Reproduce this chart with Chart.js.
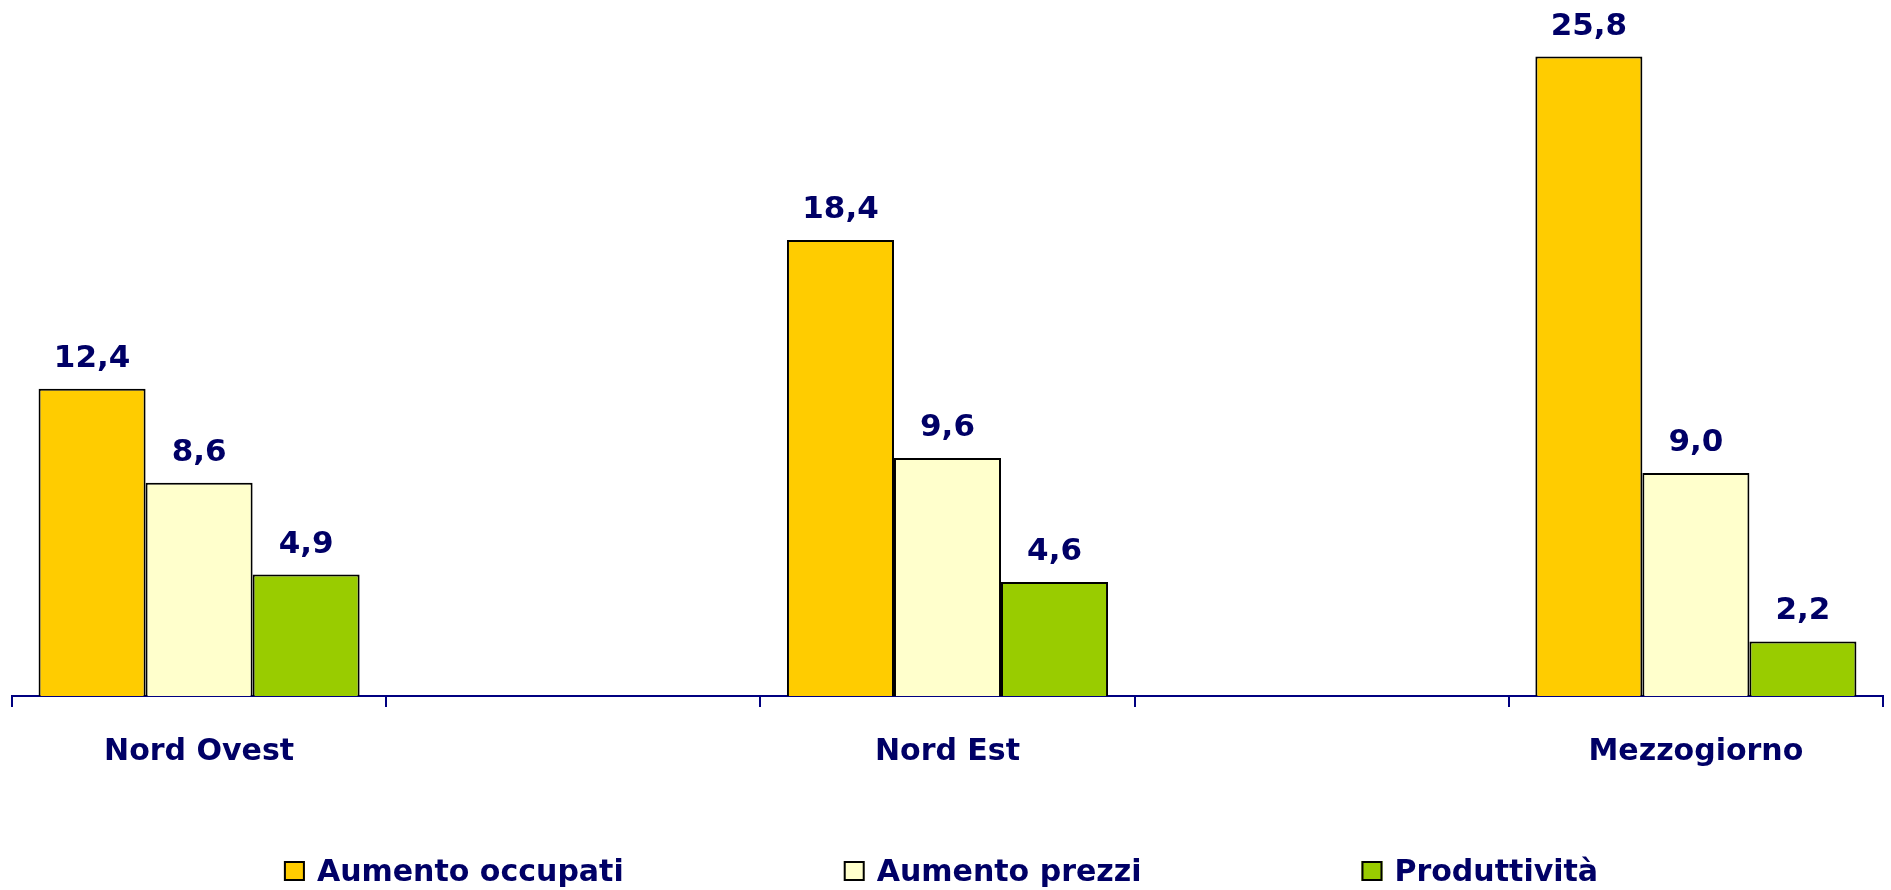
<!DOCTYPE html>
<html>
<head>
<meta charset="utf-8">
<script src="https://cdn.jsdelivr.net/npm/chart.js@4/dist/chart.umd.min.js"></script>
<style>
    html, body { margin: 0; padding: 0; background: #fff; }
    #wrap { width: 1891px; height: 890px; }
</style>
</head>
<body>
<div id="wrap"><canvas id="regionChart"></canvas></div>
<script>
// Chart data (empty categories keep the spacing of the original)
const categories = ["Nord Ovest", "", "Nord Est", "", "Mezzogiorno"];
const seriesNames = ["Aumento occupati", "Aumento prezzi", "Produttività"];
const occupati = [12.4, null, 18.4, null, 25.8];
const prezzi = [8.6, null, 9.6, null, 9.0];
const produttivita = [4.9, null, 4.6, null, 2.2];

const navy = "#000066";
const colors = ["#FFCC00", "#FFFFCC", "#99CC00"];
const font = "DejaVu Sans";

// value labels above bars
const valueLabels = {
    id: "valueLabels",
    afterDatasetsDraw(chart) {
        const ctx = chart.ctx;
        ctx.save();
        ctx.font = "bold 31px '" + font + "'";
        ctx.fillStyle = navy;
        ctx.textAlign = "center";
        ctx.textBaseline = "alphabetic";
        chart.data.datasets.forEach((ds, i) => {
            chart.getDatasetMeta(i).data.forEach((bar, j) => {
                const v = ds.data[j];
                if (v === null) return;
                ctx.fillText(v.toFixed(1).replace(".", ","), bar.x, bar.y - 22);
            });
        });
        ctx.restore();
    }
};

// legend drawn at the bottom with wide gaps
const bottomLegend = {
    id: "bottomLegend",
    afterDraw(chart) {
        const ctx = chart.ctx;
        ctx.save();
        ctx.font = "bold 30px '" + font + "'";
        const box = 21, boxGap = 12, gap = 220;
        const widths = seriesNames.map(n => box + boxGap + ctx.measureText(n).width);
        const total = widths.reduce((a, b) => a + b, 0) + gap * (widths.length - 1);
        let x = 941 - total / 2;
        const yMid = 871;
        seriesNames.forEach((name, i) => {
            ctx.fillStyle = colors[i];
            ctx.fillRect(x, yMid - 10, box, 20);
            ctx.strokeStyle = "#000";
            ctx.lineWidth = 2;
            ctx.strokeRect(x + 1, yMid - 9, box - 2, 18);
            ctx.fillStyle = navy;
            ctx.textAlign = "left";
            ctx.textBaseline = "alphabetic";
            ctx.fillText(name, x + box + boxGap, yMid + 10);
            x += widths[i] + gap;
        });
        ctx.restore();
    }
};

const chartData = {
    labels: categories,
    datasets: [occupati, prezzi, produttivita].map((d, i) => ({
        label: seriesNames[i],
        data: d,
        backgroundColor: colors[i],
        borderColor: "#000",
        borderWidth: 2,
        categoryPercentage: 0.858,
        barPercentage: 1.0
    }))
};

const regionChart = new Chart(document.getElementById("regionChart"), {
    type: "bar",
    data: chartData,
    options: {
        responsive: true,
        maintainAspectRatio: false,
        animation: false,
        layout: { padding: { top: 2, left: 12, right: 8, bottom: 93 } },
        plugins: {
            legend: { display: false },
            tooltip: { enabled: false }
        },
        scales: {
            x: {
                grid: { drawOnChartArea: false, drawTicks: true, tickLength: 11, color: "#000080", lineWidth: 2 },
                border: { display: true, color: "#000080", width: 2 },
                ticks: { color: navy, padding: 27, font: { family: font, size: 30, weight: "bold" } }
            },
            y: {
                display: false,
                min: 0,
                max: 28
            }
        }
    },
    plugins: [valueLabels, bottomLegend]
});
</script>
</body>
</html>
